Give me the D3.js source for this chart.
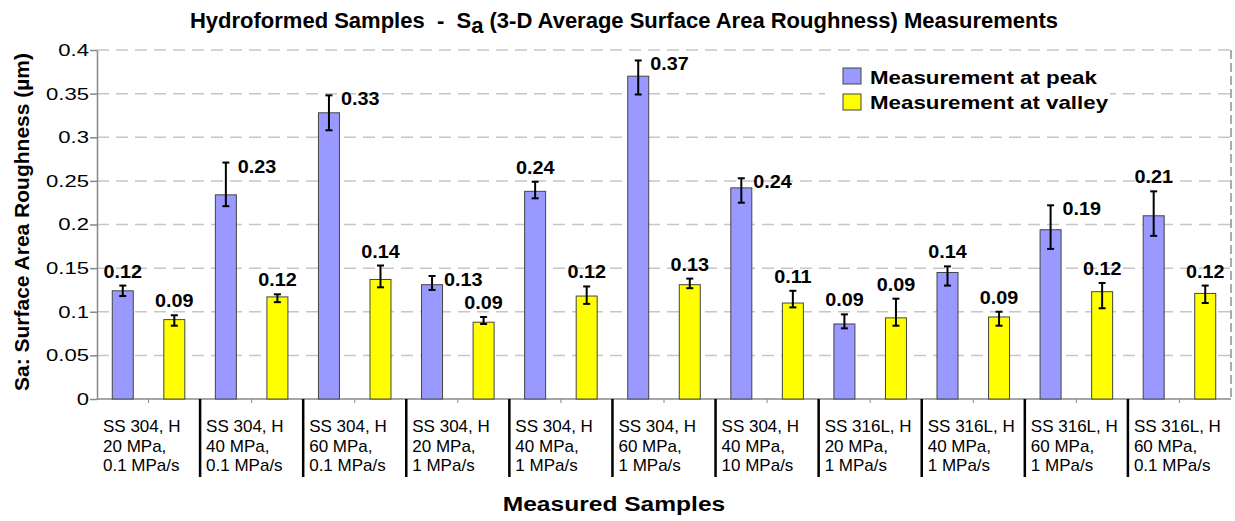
<!DOCTYPE html>
<html>
<head>
<meta charset="utf-8">
<script src="https://cdn.jsdelivr.net/npm/d3@7"></script>
<style>
  body { margin: 0; background: #fff; }
  text { font-family: "Liberation Sans", Arial, sans-serif; white-space: pre; }
</style>
</head>
<body>
<div id="chart"></div>
<script>
// sample names, one array of lines per group
const categories = [
  ["SS 304, H", "20 MPa,", "0.1 MPa/s"],
  ["SS 304, H", "40 MPa,", "0.1 MPa/s"],
  ["SS 304, H", "60 MPa,", "0.1 MPa/s"],
  ["SS 304, H", "20 MPa,", "1 MPa/s"],
  ["SS 304, H", "40 MPa,", "1 MPa/s"],
  ["SS 304, H", "60 MPa,", "1 MPa/s"],
  ["SS 304, H", "40 MPa,", "10 MPa/s"],
  ["SS 316L, H", "20 MPa,", "1 MPa/s"],
  ["SS 316L, H", "40 MPa,", "1 MPa/s"],
  ["SS 316L, H", "60 MPa,", "1 MPa/s"],
  ["SS 316L, H", "60 MPa,", "0.1 MPa/s"]
];

const seriesNames = ["Measurement at peak", "Measurement at valley"];

const peakValues = [0.124, 0.234, 0.328, 0.131, 0.238, 0.370, 0.242, 0.086, 0.145, 0.194, 0.210];
const peakHigh   = [0.130, 0.271, 0.348, 0.141, 0.249, 0.388, 0.253, 0.097, 0.152, 0.222, 0.238];
const peakLow    = [0.118, 0.221, 0.308, 0.125, 0.230, 0.349, 0.225, 0.081, 0.130, 0.172, 0.187];

const valleyValues = [0.091, 0.117, 0.137, 0.088, 0.118, 0.131, 0.110, 0.093, 0.094, 0.123, 0.121];
const valleyHigh   = [0.096, 0.120, 0.153, 0.094, 0.129, 0.138, 0.124, 0.115, 0.100, 0.133, 0.130];
const valleyLow    = [0.084, 0.111, 0.128, 0.086, 0.109, 0.127, 0.105, 0.084, 0.084, 0.104, 0.110];

// where the value label of each peak bar sits
const peakLabelSide = ["top", "right", "right", "right", "top", "right", "right", "top", "top", "right", "top"];

const yTicks = [0, 0.05, 0.1, 0.15, 0.2, 0.25, 0.3, 0.35, 0.4];

const colors = ["#9999ff", "#ffff00"];

// set the dimensions and margins of the graph
const margin = {top: 50, right: 4, bottom: 122, left: 97},
    width = 1235 - margin.left - margin.right,
    height = 521 - margin.top - margin.bottom;

const svg = d3.select("#chart")
  .append("svg")
    .attr("width", 1235)
    .attr("height", 521);

const g = svg.append("g")
    .attr("transform", `translate(${margin.left},${margin.top})`);

const x0 = d3.scaleBand().domain(d3.range(categories.length)).range([0, width]);
const x1 = d3.scaleBand().domain([0, 1]).range([0, x0.bandwidth()]);
const y = d3.scaleLinear().domain([0, 0.4]).range([height, 0]);
const barW = 21;

// stretched text helper
function stext(parent, x, yy, str, size, sx, weight, anchor) {
  return parent.append("text")
    .attr("transform", `translate(${x},${yy}) scale(${sx},1)`)
    .attr("text-anchor", anchor || "start")
    .style("font-size", size + "px")
    .style("font-weight", weight || "normal")
    .style("fill", "#000")
    .text(str);
}

// gridlines
g.selectAll(".grid")
  .data(yTicks.filter(d => d > 0))
  .join("line")
    .attr("x1", 0).attr("x2", width)
    .attr("y1", d => y(d)).attr("y2", d => y(d))
    .attr("stroke", "#c6c6c6")
    .attr("stroke-width", 1.5)
    .attr("stroke-dasharray", "12,7");

// right border
g.append("line")
  .attr("x1", width).attr("x2", width)
  .attr("y1", 0).attr("y2", height)
  .attr("stroke", "#555")
  .attr("stroke-dasharray", "9,4");

// Y axis
const yAxis = g.append("g")
  .call(d3.axisLeft(y).tickValues(yTicks).tickSize(7).tickSizeOuter(0).tickFormat(d => String(d)));
yAxis.select(".domain").attr("stroke", "#888").attr("stroke-width", 1.5);
yAxis.selectAll(".tick line").attr("stroke", "#888").attr("stroke-width", 1.5);
yAxis.selectAll(".tick text")
  .attr("x", -8 / 1.3)
  .attr("transform", "scale(1.3,1)")
  .style("font-size", "17px")
  .style("fill", "#000")
  .style("font-family", "'Liberation Sans', Arial, sans-serif");

// X axis
g.append("line")
  .attr("x1", 0).attr("x2", width)
  .attr("y1", height).attr("y2", height)
  .attr("stroke", "#888").attr("stroke-width", 1.5);

g.selectAll(".minor")
  .data(d3.range(categories.length))
  .join("line")
    .attr("x1", d => x0(d) + x0.bandwidth() / 2)
    .attr("x2", d => x0(d) + x0.bandwidth() / 2)
    .attr("y1", height).attr("y2", height + 4)
    .attr("stroke", "#888");

g.selectAll(".divider")
  .data(d3.range(1, categories.length))
  .join("line")
    .attr("x1", d => x0(d)).attr("x2", d => x0(d))
    .attr("y1", height).attr("y2", height + 78)
    .attr("stroke", "#000")
    .attr("stroke-width", 2.5);

categories.forEach((lines, i) => {
  lines.forEach((ln, j) => {
    stext(g, x0(i) + 6, height + 33 + j * 19.5, ln, 17, 1);
  });
});

// bars
const series = [
  {values: peakValues, hi: peakHigh, lo: peakLow},
  {values: valleyValues, hi: valleyHigh, lo: valleyLow}
];

series.forEach((s, k) => {
  s.values.forEach((v, i) => {
    const cx = x0(i) + x1(k) + x1.bandwidth() / 2;
    const grp = g.append("g");

    grp.append("rect")
      .attr("x", cx - barW / 2)
      .attr("y", y(v))
      .attr("width", barW)
      .attr("height", height - y(v))
      .attr("fill", colors[k])
      .attr("stroke", "#444")
      .attr("stroke-width", 1);

    // error bar
    grp.append("line")
      .attr("x1", cx).attr("x2", cx)
      .attr("y1", y(s.lo[i])).attr("y2", y(s.hi[i]))
      .attr("stroke", "#000").attr("stroke-width", 2);
    [s.lo[i], s.hi[i]].forEach(e => {
      grp.append("line")
        .attr("x1", cx - 3.5).attr("x2", cx + 3.5)
        .attr("y1", y(e)).attr("y2", y(e))
        .attr("stroke", "#000").attr("stroke-width", 2);
    });

    const side = k === 0 ? peakLabelSide[i] : "top";
    const lbl = d3.format(".2f")(v);
    if (side === "right") {
      stext(grp, cx + 12, y(s.hi[i]) + 10, lbl, 18, 1.1, "bold", "start");
    } else {
      stext(grp, cx, y(s.hi[i]) - 8, lbl, 18, 1.1, "bold", "middle");
    }
  });
});

// legend
const legend = svg.append("g");
legend.append("rect")
  .attr("x", 825).attr("y", 60)
  .attr("width", 285).attr("height", 58)
  .attr("fill", "#fff");
seriesNames.forEach((name, k) => {
  legend.append("rect")
    .attr("x", 843).attr("y", 68 + k * 26)
    .attr("width", 18).attr("height", 16)
    .attr("fill", colors[k])
    .attr("stroke", "#444");
  stext(legend, 870, 84 + k * 25, name, 18, 1.24, "bold");
});

// title
const title = svg.append("text")
  .attr("x", 624)
  .attr("y", 28)
  .attr("text-anchor", "middle")
  .style("font-size", "22px")
  .style("font-weight", "bold");
title.append("tspan").text("Hydroformed Samples  -  S");
title.append("tspan").attr("dy", 5).text("a");
title.append("tspan").attr("dy", -5).text(" (3-D Average Surface Area Roughness) Measurements");

// axis titles
stext(svg, 614, 511, "Measured Samples", 21, 1.17, "bold", "middle");

svg.append("text")
  .attr("transform", "translate(29,222) rotate(-90)")
  .attr("text-anchor", "middle")
  .style("font-size", "21px")
  .style("font-weight", "bold")
  .text("Sa: Surface Area Roughness (\u00b5m)");
</script>
</body>
</html>
